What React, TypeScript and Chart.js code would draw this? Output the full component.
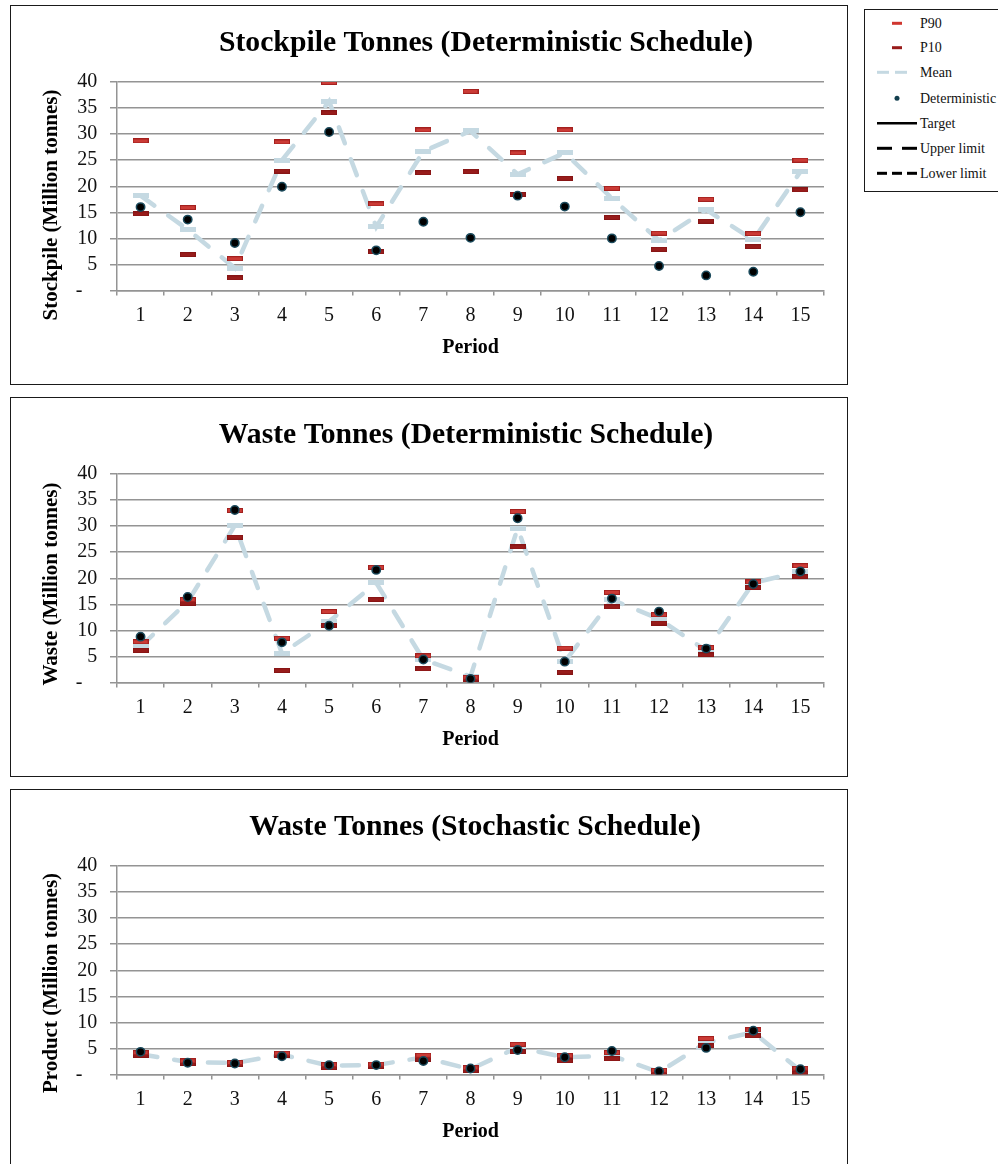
import React, { useEffect, useRef } from "react";
import { Chart, registerables } from "chart.js";

Chart.register(...registerables);

const SERIF = "'Liberation Serif', 'Times New Roman', Times, serif";

const periods = ["1", "2", "3", "4", "5", "6", "7", "8", "9", "10", "11", "12", "13", "14", "15"];
const yTickValues = [0, 5, 10, 15, 20, 25, 30, 35, 40];

// Stockpile tonnes, deterministic schedule (million tonnes)
const stockP90 = [28.7, 15.9, 6.1, 28.5, 39.9, 16.6, 30.8, 38.2, 26.4, 30.8, 19.6, 11.0, 17.5, 10.9, 25.0];
const stockP10 = [14.7, 6.9, 2.4, 22.9, 34.1, 7.4, 22.6, 22.8, 18.4, 21.5, 14.0, 7.9, 13.3, 8.4, 19.3];
const stockMean = [18.2, 11.7, 4.3, 25.0, 36.3, 12.2, 26.7, 30.6, 22.3, 26.4, 17.7, 9.6, 15.5, 9.7, 22.8];
const stockDet = [16.0, 13.6, 9.1, 19.9, 30.4, 7.7, 13.2, 10.1, 18.2, 16.1, 10.0, 4.7, 2.9, 3.6, 15.0];

// Waste tonnes, deterministic schedule
const wasteP90 = [7.8, 15.9, 33.0, 8.5, 13.6, 22.1, 5.1, 1.0, 32.8, 6.6, 17.3, 13.0, 6.7, 19.3, 22.4];
const wasteP10 = [6.1, 15.2, 27.9, 2.3, 11.0, 15.9, 2.6, 0.5, 26.0, 2.0, 14.5, 11.4, 5.3, 18.2, 20.3];
const wasteMean = [6.9, 15.5, 30.1, 5.6, 11.7, 19.1, 4.4, 1.15, 29.6, 4.0, 15.9, 12.2, 6.1, 19.1, 21.3];
const wasteDet = [8.8, 16.4, 33.1, 7.7, 10.9, 21.6, 4.4, 0.7, 31.5, 4.0, 16.1, 13.6, 6.5, 18.9, 21.3];

// Waste tonnes, stochastic schedule
const stochP90 = [4.2, 2.6, 2.3, 4.1, 1.9, 2.0, 3.7, 1.3, 5.8, 3.6, 4.2, 0.8, 6.9, 8.6, 1.2];
const stochP10 = [3.7, 2.1, 1.9, 3.6, 1.3, 1.5, 2.9, 0.7, 4.4, 2.6, 3.0, 0.2, 5.5, 7.4, 0.3];
const stochMean = [3.9, 2.4, 2.2, 3.8, 1.7, 1.8, 3.3, 1.0, 5.2, 3.3, 3.6, 0.45, 6.1, 8.1, 0.7];
const stochDet = [4.35, 2.25, 2.1, 3.5, 1.8, 1.8, 2.6, 1.15, 4.7, 3.3, 4.5, 0.6, 5.1, 8.4, 1.0];

const GRID = "#949494";
const MEAN_BLUE = "#C5D9E2";

function makeBar(w: number, h: number, outer: string, inner: string) {
  const c = document.createElement("canvas");
  c.width = w;
  c.height = h;
  const g = c.getContext("2d")!;
  g.fillStyle = outer;
  g.fillRect(0, 0, w, h);
  g.fillStyle = inner;
  g.fillRect(1, 1, w - 2, h - 2);
  return c;
}

// Draws the panel heading and both axis titles
const panelText = {
  id: "panelText",
  afterDraw(chart: any, _args: any, opts: any) {
    const { ctx, chartArea } = chart;
    ctx.save();
    ctx.fillStyle = "#000";
    ctx.textAlign = "center";
    ctx.textBaseline = "alphabetic";
    ctx.font = `bold 29.7px ${SERIF}`;
    ctx.fillText(opts.title, opts.titleX, 44.7);

    ctx.textBaseline = "middle";
    ctx.font = `bold 20px ${SERIF}`;
    ctx.fillText(opts.xTitle, (chartArea.left + chartArea.right) / 2, 342);

    ctx.translate(40.5, opts.yTitleY);
    ctx.rotate(-Math.PI / 2);
    ctx.font = `bold 21px ${SERIF}`;
    ctx.fillText(opts.yTitle, 0, 0);
    ctx.restore();
  },
};

type PanelProps = {
  top: number;
  title: string;
  titleX: number;
  yTitle: string;
  yTitleY: number;
  p90: number[];
  p10: number[];
  mean: number[];
  det: number[];
};

function Panel({ top, title, titleX, yTitle, yTitleY, p90, p10, mean, det }: PanelProps) {
  const ref = useRef<HTMLCanvasElement>(null);

  useEffect(() => {
    const p90Mark = makeBar(16, 5, "#A3201E", "#CB3B36");
    const p10Mark = makeBar(16, 5, "#871515", "#981C1B");
    const meanMark = makeBar(16, 5, MEAN_BLUE, MEAN_BLUE);

    const chart = new Chart(ref.current!, {
      type: "line",
      data: {
        labels: periods,
        datasets: [
          {
            label: "Deterministic",
            data: det,
            showLine: false,
            pointStyle: "circle",
            pointRadius: 4.2,
            pointBackgroundColor: "#000000",
            pointBorderColor: "#1B4A5C",
            pointBorderWidth: 1.5,
            order: 0,
          },
          {
            label: "P90",
            data: p90,
            showLine: false,
            pointStyle: p90Mark as any,
            pointRadius: 8,
            order: 1,
          },
          {
            label: "P10",
            data: p10,
            showLine: false,
            pointStyle: p10Mark as any,
            pointRadius: 8,
            order: 2,
          },
          {
            label: "Mean",
            data: mean,
            borderColor: MEAN_BLUE,
            borderWidth: 4.5,
            borderDash: [17, 17],
            borderCapStyle: "round",
            tension: 0,
            pointStyle: meanMark as any,
            pointRadius: 8,
            order: 3,
          },
        ],
      },
      options: {
        responsive: false,
        animation: false,
        devicePixelRatio: 1,
        layout: { padding: { top: 76, right: 23, bottom: 0, left: 0 } },
        plugins: {
          legend: { display: false },
          tooltip: { enabled: false },
          panelText: { title, titleX, yTitle, yTitleY, xTitle: "Period" },
        } as any,
        scales: {
          x: {
            type: "category",
            offset: true,
            grid: {
              offset: true,
              drawOnChartArea: false,
              drawTicks: true,
              tickLength: 5,
              color: GRID,
              lineWidth: 1.5,
            },
            border: { display: true, color: GRID, width: 1.5 },
            ticks: {
              color: "#111",
              font: { family: SERIF, size: 20 },
              padding: 8,
              maxRotation: 0,
              autoSkip: false,
            },
            afterFit: (scale: any) => {
              scale.height = 93.5;
            },
          },
          y: {
            min: 0,
            max: 40,
            afterBuildTicks: (scale: any) => {
              scale.ticks = yTickValues.map((v) => ({ value: v }));
            },
            grid: {
              color: GRID,
              lineWidth: 1.5,
              drawTicks: true,
              tickLength: 7,
            },
            border: { display: true, color: GRID, width: 1.5 },
            ticks: {
              color: "#111",
              font: { family: SERIF, size: 20 },
              padding: 12.7,
              autoSkip: false,
              callback: (v: any) => (Number(v) === 0 ? "-   " : String(v)),
            },
            afterFit: (scale: any) => {
              scale.width = 106;
            },
          },
        },
      },
      plugins: [panelText],
    });
    return () => chart.destroy();
  }, []);

  return (
    <div
      style={{
        position: "absolute",
        left: 10,
        top,
        width: 836,
        height: 378,
        border: "1px solid #1a1a1a",
        background: "#fff",
      }}
    >
      <canvas ref={ref} width={836} height={378} style={{ display: "block" }} />
    </div>
  );
}

const legendRows = [
  { label: "P90", y: 13.3 },
  { label: "P10", y: 37.7 },
  { label: "Mean", y: 62.3 },
  { label: "Deterministic", y: 88.3 },
  { label: "Target", y: 113.3 },
  { label: "Upper limit", y: 138.3 },
  { label: "Lower limit", y: 163.3 },
];

function Legend() {
  const r = legendRows;
  return (
    <div
      style={{
        position: "absolute",
        left: 864,
        top: 9,
        width: 160,
        height: 181,
        border: "1px solid #1a1a1a",
        background: "#fff",
      }}
    >
      <svg width={160} height={181} style={{ display: "block" }}>
        <rect x={27} y={r[0].y - 1.5} width={10} height={3} fill="#D0362F" />
        <rect x={27} y={r[1].y - 1.5} width={10} height={3} fill="#981B1A" />
        <line x1={12} x2={24} y1={r[2].y} y2={r[2].y} stroke={MEAN_BLUE} strokeWidth={3} />
        <line x1={30} x2={42} y1={r[2].y} y2={r[2].y} stroke={MEAN_BLUE} strokeWidth={3} />
        <circle cx={32} cy={r[3].y} r={2.5} fill="#123E4E" />
        <line x1={12} x2={52} y1={r[4].y} y2={r[4].y} stroke="#000" strokeWidth={2.5} />
        <line x1={12} x2={27} y1={r[5].y} y2={r[5].y} stroke="#000" strokeWidth={3} />
        <line x1={37} x2={52} y1={r[5].y} y2={r[5].y} stroke="#000" strokeWidth={3} />
        <line x1={12} x2={22} y1={r[6].y} y2={r[6].y} stroke="#000" strokeWidth={3} />
        <line x1={27} x2={37} y1={r[6].y} y2={r[6].y} stroke="#000" strokeWidth={3} />
        <line x1={42} x2={52} y1={r[6].y} y2={r[6].y} stroke="#000" strokeWidth={3} />
        {r.map((row) => (
          <text
            key={row.label}
            x={55}
            y={row.y}
            dominantBaseline="central"
            fontFamily={SERIF}
            fontSize={14}
            fill="#111"
          >
            {row.label}
          </text>
        ))}
      </svg>
    </div>
  );
}

export default function App() {
  return (
    <div
      style={{
        position: "absolute",
        left: 0,
        top: 0,
        width: 998,
        height: 1164,
        overflow: "hidden",
        background: "#fff",
      }}
    >
      <Panel
        top={5}
        title="Stockpile Tonnes (Deterministic Schedule)"
        titleX={475}
        yTitle="Stockpile (Million tonnes)"
        yTitleY={199}
        p90={stockP90}
        p10={stockP10}
        mean={stockMean}
        det={stockDet}
      />
      <Panel
        top={397}
        title="Waste Tonnes (Deterministic Schedule)"
        titleX={455}
        yTitle="Waste (Million tonnes)"
        yTitleY={186}
        p90={wasteP90}
        p10={wasteP10}
        mean={wasteMean}
        det={wasteDet}
      />
      <Panel
        top={789}
        title="Waste Tonnes (Stochastic Schedule)"
        titleX={464}
        yTitle="Product (Million tonnes)"
        yTitleY={193}
        p90={stochP90}
        p10={stochP10}
        mean={stochMean}
        det={stochDet}
      />
      <Legend />
    </div>
  );
}
